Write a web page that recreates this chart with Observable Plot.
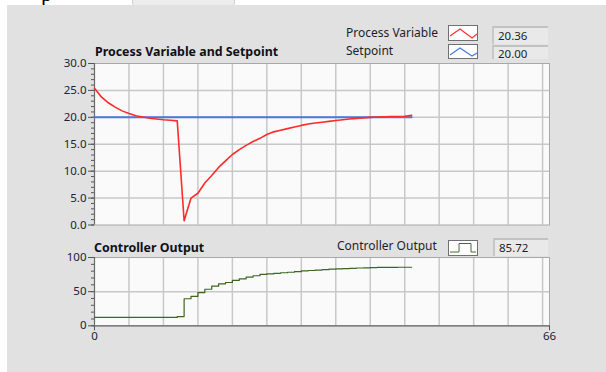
<!DOCTYPE html>
<html><head><meta charset="utf-8">
<script src="https://cdn.jsdelivr.net/npm/d3@7"></script>
<script src="https://cdn.jsdelivr.net/npm/@observablehq/plot@0.6"></script>
<style>
body{margin:0;background:#fff;}
#root{position:relative;width:606px;height:372px;overflow:hidden;font-family:"Noto Sans",sans-serif;color:#20202c;}
#panel{position:absolute;left:7px;top:5px;right:0;bottom:0;background:#e1e1e1;}
.abs{position:absolute;white-space:nowrap;}
.lbl{font-size:12px;line-height:14px;color:#1e1e2a;}
.ttl{font-size:12.4px;line-height:14px;font-weight:bold;color:#101018;}
.lbox{background:#fff;border:1px solid #707070;box-sizing:border-box;}
.lbox svg{display:block;}
.vbox{background:#e9e9e9;border-top:2px solid #c2c2c2;border-left:2px solid #c8c8c8;box-sizing:border-box;font-size:11.5px;line-height:14px;padding-left:4px;color:#1e1e2a;}
.plotwrap{position:absolute;left:0;}
</style></head>
<body>
<div id="root">
  <div class="abs" style="left:132px;top:-5px;width:101px;height:9px;background:#ededed;border:1px solid #d0d0d0;border-radius:3px;"></div>
  <div class="abs" style="left:41px;top:-17px;font-family:'Liberation Serif',serif;font-size:22px;line-height:22px;color:#000;">p</div>
  <div id="panel"></div>
  <div id="topPlot" class="plotwrap" style="top:40px"></div>
  <div id="botPlot" class="plotwrap" style="top:245px"></div>

  <div class="abs ttl" style="left:95px;top:45px;">Process Variable and Setpoint</div>
  <div class="abs lbl" style="left:346px;top:26px;">Process Variable</div>
  <div class="abs lbl" style="left:346px;top:44px;">Setpoint</div>
  <div class="abs lbox" style="left:448px;top:25px;width:30px;height:16px;"><svg width="28" height="14"><polyline points="1,10 11,3 23,12 28,8" fill="none" stroke="#ff3030" stroke-width="1.2"/></svg></div>
  <div class="abs lbox" style="left:448px;top:44px;width:30px;height:15px;"><svg width="28" height="13"><polyline points="1,10 11,3 23,11 28,8" fill="none" stroke="#4a78e0" stroke-width="1.2"/></svg></div>
  <div class="abs vbox" style="left:492px;top:26px;width:56px;height:18px;padding-top:1px;">20.36</div>
  <div class="abs vbox" style="left:492px;top:45px;width:56px;height:14px;">20.00</div>

  <div class="abs ttl" style="left:94px;top:241px;">Controller Output</div>
  <div class="abs lbl" style="left:337px;top:239px;">Controller Output</div>
  <div class="abs lbox" style="left:448px;top:240px;width:30px;height:16px;"><svg width="28" height="14"><polyline points="1,11 10,11 10,2.5 22,2.5 22,11 27,11" fill="none" stroke="#4a6a30" stroke-width="1"/></svg></div>
  <div class="abs vbox" style="left:493px;top:238px;width:55px;height:18px;padding-top:1px;">85.72</div>
</div>
<script>
// ---- data ----
const time = [0,1,2,3,4,5,6,7,8,9,10,11,12,13,14,15,16,17,18,19,20,21,22,23,24,25,26,27,28,29,30,31,32,33,34,35,36,37,38,39,40,41,42,43,44,45,46];
const processVariable = [25.4,23.8,22.7,21.9,21.2,20.7,20.3,20.05,19.85,19.7,19.55,19.45,19.35,0.8,5.0,5.9,7.8,9.2,10.7,11.9,13.1,14.0,14.8,15.5,16.1,16.8,17.3,17.6,17.9,18.2,18.5,18.75,18.95,19.1,19.25,19.4,19.55,19.7,19.8,19.9,20.0,20.05,20.1,20.15,20.15,20.2,20.36];
const setpointTime = [0,46];
const setpoint = [20,20];
const controllerOutput = [12.3,12.3,12.3,12.3,12.3,12.3,12.3,12.3,12.3,12.3,12.3,12.3,13.5,39.6,43,48.6,53.5,58,61.4,63.4,66.4,68.8,71.3,73.3,75.3,76.0,76.8,77.7,78.4,79.2,80.5,81.0,81.6,82.2,82.9,83.4,83.8,84.2,84.6,84.9,85.2,85.5,85.6,85.65,85.7,85.7,85.72];
const xDomain = [0,66];
const xGridTicks = [5,10,15,20,25,30,35,40,45,50,55,60,65];
const xAxisTicks = [0,66];
const pvMajorTicks = [0,5,10,15,20,25,30];
const pvGridTicks = [5,10,15,20,25];
const pvMinorTicks = [0,1,2,3,4,5,6,7,8,9,10,11,12,13,14,15,16,17,18,19,20,21,22,23,24,25,26,27,28,29,30];
const coMajorTicks = [0,50,100];
const coGridTicks = [50];
const coMinorTicks = [0,10,20,30,40,50,60,70,80,90,100];

const pvData = time.map((t,i)=>({t, v: processVariable[i]}));
const spData = setpointTime.map((t,i)=>({t, v: setpoint[i]}));
const coData = time.map((t,i)=>({t, v: controllerOutput[i]}));

const plotStyle = {background:"transparent", fontFamily:"Noto Sans, sans-serif", fontSize:"11.5px", color:"#22223a", overflow:"visible"};
const gridOpts = {stroke:"#c8c8c8", strokeOpacity:1, strokeWidth:1.5};

const pvChart = Plot.plot({
  width:606, height:200,
  marginLeft:94, marginRight:57, marginTop:23, marginBottom:15.5,
  x:{domain:xDomain, axis:null},
  y:{domain:[0,30], axis:null},
  style:plotStyle,
  marks:[
    Plot.frame({fill:"#fafafa", stroke:"none"}),
    Plot.gridX({ticks:xGridTicks, ...gridOpts}),
    Plot.gridY({ticks:pvGridTicks, ...gridOpts}),
    Plot.frame({stroke:"#a8a8a8"}),
    Plot.axisY({ticks:pvMinorTicks, tickSize:3, tickFormat:()=>"", label:null, stroke:"#555"}),
    Plot.axisY({ticks:pvMajorTicks, tickSize:6, tickPadding:2, tickFormat:d3.format(".1f"), label:null, stroke:"#555"}),
    Plot.ruleX([0], {stroke:"#6a6a6a", strokeWidth:1.2}),
    Plot.line(spData, {x:"t", y:"v", stroke:"#4a78e0", strokeWidth:2}),
    Plot.line(pvData, {x:"t", y:"v", stroke:"#ff2a2a", strokeWidth:1.6})
  ]
});
document.getElementById("topPlot").appendChild(pvChart);

const coChart = Plot.plot({
  width:606, height:100,
  marginLeft:94, marginRight:57, marginTop:12, marginBottom:19.7,
  x:{domain:xDomain, axis:null},
  y:{domain:[0,100], axis:null},
  style:plotStyle,
  marks:[
    Plot.frame({fill:"#fafafa", stroke:"none"}),
    Plot.gridX({ticks:xGridTicks, ...gridOpts}),
    Plot.gridY({ticks:coGridTicks, ...gridOpts}),
    Plot.frame({stroke:"#a8a8a8"}),
    Plot.axisY({ticks:coMinorTicks, tickSize:3, tickFormat:()=>"", label:null, stroke:"#555"}),
    Plot.axisY({ticks:coMajorTicks, tickSize:6, tickPadding:2, label:null, stroke:"#555"}),
    Plot.axisX({ticks:xAxisTicks, tickSize:5, tickPadding:1, label:null, stroke:"#555"}),
    Plot.ruleX([0], {stroke:"#6a6a6a", strokeWidth:1.2}),
    Plot.ruleY([0], {stroke:"#6a6a6a", strokeWidth:1.2}),
    Plot.line(coData, {x:"t", y:"v", curve:"step-after", stroke:"#3d6620", strokeWidth:1.2})
  ]
});
document.getElementById("botPlot").appendChild(coChart);
</script>
</body></html>
